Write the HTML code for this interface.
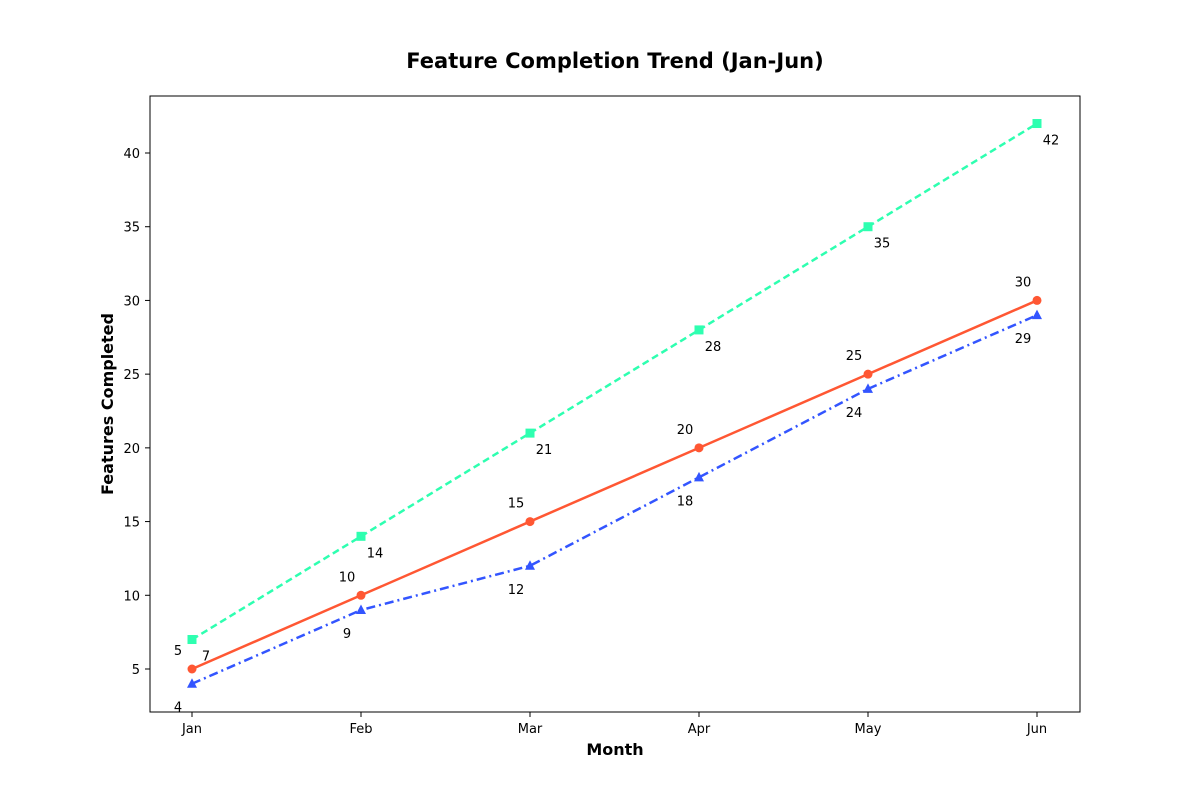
<!DOCTYPE html>
<html><head><meta charset="utf-8"><style>
body{margin:0;background:#fff}
svg text{font-family:"DejaVu Sans","Liberation Sans",sans-serif}
</style></head><body>
<svg id="chart" width="1200" height="800" xmlns="http://www.w3.org/2000/svg">
<rect width="1200" height="800" fill="#fff"/>
<text x="615" y="68" text-anchor="middle" font-size="21" font-weight="bold">Feature Completion Trend (Jan-Jun)</text>
<g id="axes"></g>
<g id="series"></g>
<rect x="150" y="96" width="930" height="616" fill="none" stroke="#000" stroke-width="1"/>
<text x="615" y="755" text-anchor="middle" font-size="16" font-weight="bold">Month</text>
<text transform="translate(113,404) rotate(-90)" text-anchor="middle" font-size="16" font-weight="bold">Features Completed</text>
</svg>
<script>
const months = ["Jan","Feb","Mar","Apr","May","Jun"];
const seriesA = [5,10,15,20,25,30];
const seriesB = [7,14,21,28,35,42];
const seriesC = [4,9,12,18,24,29];
const yTicks = [5,10,15,20,25,30,35,40];

const NS="http://www.w3.org/2000/svg";
const xs=i=>192+i*(1037-192)/(months.length-1);
const ys=v=>669-(v-5)*(669-153)/35;
const axes=document.getElementById('axes'), ser=document.getElementById('series');
function mk(tag,attrs,parent){const e=document.createElementNS(NS,tag);for(const k in attrs)e.setAttribute(k,attrs[k]);parent.appendChild(e);return e;}
months.forEach((m,i)=>{
  const t=mk('line',{x1:xs(i),x2:xs(i),y1:712,y2:717,stroke:'#000'},axes);
  
  
  const l=mk('text',{x:xs(i),y:733,'text-anchor':'middle','font-size':13},axes);
  l.textContent=m;
  
  
});
yTicks.forEach(v=>{
  const t=mk('line',{x1:145,x2:150,y1:ys(v),y2:ys(v),stroke:'#000'},axes);
  
  
  const l=mk('text',{x:140,y:ys(v)+5,'text-anchor':'end','font-size':13},axes);
  l.textContent=v;
  
  
});
function draw(data,color,dash,marker,dx,dy,name){
  const g=mk('g',{},ser);
  
  
  const p=mk('polyline',{points:data.map((v,i)=>xs(i)+','+ys(v)).join(' '),fill:'none',stroke:color,'stroke-width':2.5,'stroke-dasharray':dash},g);
  
  
  data.forEach((v,i)=>{
    const x=xs(i),y=ys(v);let m;
    if(marker==='o')m=mk('circle',{cx:x,cy:y,r:4.5,fill:color},g);
    else if(marker==='s')m=mk('rect',{x:x-4.5,y:y-4.5,width:9,height:9,fill:color},g);
    else m=mk('polygon',{points:`${x},${y-5.5} ${x-5},${y+4} ${x+5},${y+4}`,fill:color},g);
    
    
    const t=mk('text',{x:x+dx,y:y+dy+5,'text-anchor':'middle','font-size':13},g);
    t.textContent=v;
    
    
  });
}
draw(seriesB,'#2effb0','7,4','s',14,16,'series-green');
draw(seriesA,'#ff5733','none','o',-14,-19,'series-red');
draw(seriesC,'#3355ff','9,4,2,4','^',-14,23,'series-blue');
</script>
</body></html>
